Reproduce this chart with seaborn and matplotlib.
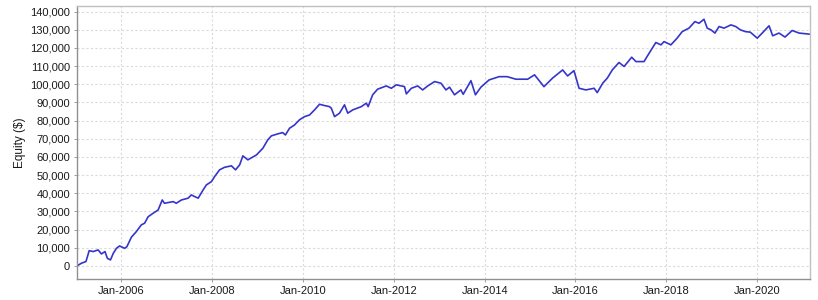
import matplotlib
matplotlib.use("Agg")
import matplotlib.pyplot as plt
import matplotlib.dates as mdates
from matplotlib.ticker import FuncFormatter, MultipleLocator
import seaborn as sns
import pandas as pd

dates = [
    "2005-01-12", "2005-02-17", "2005-03-25", "2005-04-20", "2005-05-22", "2005-07-01", "2005-07-27",
    "2005-08-25", "2005-09-13", "2005-10-08", "2005-10-31", "2005-11-25", "2005-12-20", "2006-01-30",
    "2006-02-17", "2006-03-25", "2006-05-04", "2006-06-13", "2006-07-09", "2006-08-07", "2006-09-16",
    "2006-10-26", "2006-11-28", "2006-12-16", "2007-02-24", "2007-03-21", "2007-05-01", "2007-06-24",
    "2007-07-20", "2007-08-15", "2007-09-13", "2007-10-23", "2007-11-18", "2007-12-28", "2008-01-23",
    "2008-03-03", "2008-04-12", "2008-06-06", "2008-07-09", "2008-08-11", "2008-09-06", "2008-10-16",
    "2008-12-24", "2009-02-14", "2009-03-25", "2009-04-23", "2009-06-13", "2009-07-23", "2009-08-14",
    "2009-09-16", "2009-10-26", "2009-12-06", "2010-01-15", "2010-02-24", "2010-04-05", "2010-05-15",
    "2010-06-24", "2010-08-03", "2010-08-18", "2010-09-13", "2010-10-23", "2010-12-02", "2010-12-28",
    "2011-02-06", "2011-04-16", "2011-05-26", "2011-06-10", "2011-07-16", "2011-08-25", "2011-11-03",
    "2011-12-13", "2012-01-22", "2012-03-28", "2012-04-12", "2012-05-22", "2012-07-12", "2012-08-21",
    "2012-10-01", "2012-11-25", "2013-01-15", "2013-02-24", "2013-03-25", "2013-05-04", "2013-06-24",
    "2013-07-13", "2013-09-13", "2013-10-19", "2013-12-02", "2014-02-06", "2014-04-27", "2014-07-01",
    "2014-09-09", "2014-12-13", "2015-02-06", "2015-04-23", "2015-07-01", "2015-09-20", "2015-10-30",
    "2015-12-20", "2016-01-30", "2016-03-25", "2016-05-30", "2016-06-24", "2016-08-07", "2016-09-13",
    "2016-10-23", "2016-12-16", "2017-01-26", "2017-03-28", "2017-05-01", "2017-07-05", "2017-08-15",
    "2017-10-08", "2017-11-18", "2017-12-13", "2018-02-06", "2018-03-28", "2018-05-08", "2018-07-01",
    "2018-08-18", "2018-09-20", "2018-10-30", "2018-11-25", "2018-12-24", "2019-01-26", "2019-02-28",
    "2019-04-09", "2019-06-03", "2019-07-12", "2019-08-18", "2019-09-27", "2019-11-06", "2020-01-01",
    "2020-02-10", "2020-04-05", "2020-05-04", "2020-06-24", "2020-08-11", "2020-10-08", "2020-12-02",
    "2021-02-24",
]

equity = [
    0, 1500, 2400, 8400, 7900, 8800, 6600,
    7900, 4200, 3300, 7000, 9700, 11000, 9700,
    10600, 15800, 18900, 22600, 23500, 27100, 29000,
    30800, 36300, 34500, 35400, 34500, 36300, 37300,
    39100, 38200, 37300, 41900, 44600, 46400, 49200,
    52900, 54300, 55100, 52900, 55600, 60600, 58400,
    61100, 64800, 69400, 71600, 72700, 73400, 72100,
    75800, 77600, 80500, 82200, 83100, 85900, 89000,
    88300, 87700, 86800, 82200, 84100, 88700, 84100,
    85900, 87700, 89600, 87700, 94200, 97300, 99100,
    97800, 99700, 98700, 94700, 97800, 99100, 96900,
    99100, 101500, 100600, 96900, 98400, 94200, 96900,
    94500, 102000, 94200, 98400, 102400, 104200, 104200,
    102800, 102800, 105200, 98700, 103400, 107900, 104600,
    107500, 97800, 96900, 97800, 95400, 100600, 103400,
    107900, 112000, 109800, 114900, 112500, 112500, 117100,
    123000, 121700, 123500, 121700, 125400, 129000, 130900,
    134500, 133600, 135800, 130900, 130000, 128200, 131800,
    130900, 132700, 131800, 130000, 129000, 128700, 125400,
    128200, 132200, 126700, 128200, 126000, 129600, 128200,
    127600,
]

y_label = "Equity ($)"
x_tick_years = [2006, 2008, 2010, 2012, 2014, 2016, 2018, 2020]

df = pd.DataFrame({"date": pd.to_datetime(dates), "equity": equity})

sns.set_theme(style="white")
plt.rcParams["font.family"] = ["Liberation Sans", "DejaVu Sans"]

fig = plt.figure(figsize=(8.18, 3.0), dpi=100)
ax = fig.add_axes([77 / 818, 21 / 300, 733 / 818, 273 / 300])

sns.lineplot(data=df, x="date", y="equity", ax=ax, color="#3535cc", linewidth=1.2)

ax.set_xlim(pd.Timestamp("2005-01-12"), pd.Timestamp("2021-02-28"))
ax.set_ylim(-7200, 143100)

ax.yaxis.set_major_locator(MultipleLocator(10000))
ax.yaxis.set_major_formatter(FuncFormatter(lambda v, p: f"{int(v):,}"))
ax.set_xticks([pd.Timestamp(f"{y}-01-01") for y in x_tick_years])
ax.xaxis.set_major_formatter(mdates.DateFormatter("Jan-%Y"))

ax.grid(True, color="#dadada", linestyle=(0, (2, 2)), linewidth=0.8)
ax.set_axisbelow(True)

for side, sp in ax.spines.items():
    sp.set_visible(True)
    sp.set_linewidth(1.0)
    sp.set_color("#c0c0c0")
ax.spines["left"].set_color("#909090")
ax.spines["bottom"].set_color("#909090")

ax.tick_params(axis="both", labelsize=8, colors="#909090", length=2, width=0.6,
               pad=3, bottom=True, left=True)
ax.tick_params(axis="both", labelcolor="#1a1a1a")

ax.set_xlabel("")
ax.set_ylabel(y_label, fontsize=8.5, color="#1a1a1a", labelpad=3)

fig.savefig("out.png", dpi=100)
